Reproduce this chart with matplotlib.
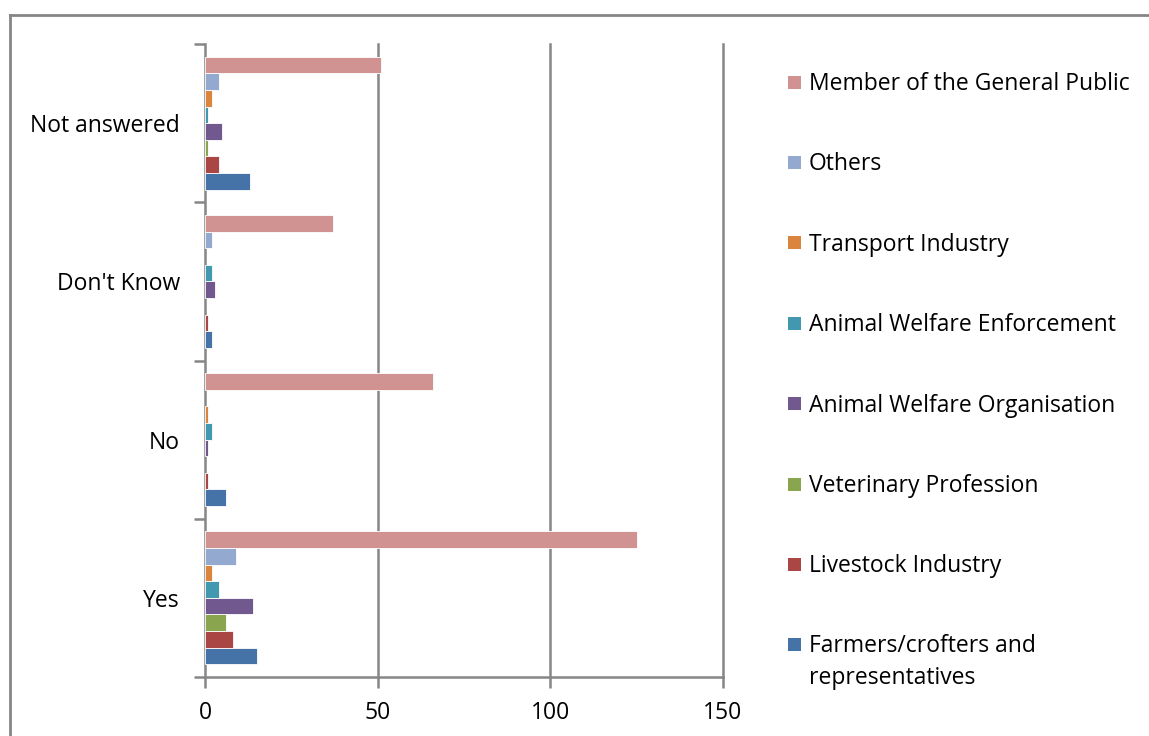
import matplotlib.pyplot as plt
from matplotlib.lines import Line2D
from matplotlib.patches import Rectangle
import numpy as np

plt.rcParams['font.family'] = ['Open Sans', 'DejaVu Sans']

categories = ["Yes", "No", "Don't Know", "Not answered"]

# series listed bottom-to-top inside each group
series_names = [
    "Farmers/crofters and\nrepresentatives",
    "Livestock Industry",
    "Veterinary Profession",
    "Animal Welfare Organisation",
    "Animal Welfare Enforcement",
    "Transport Industry",
    "Others",
    "Member of the General Public",
]
series_colors = ["#4572A7", "#AA4643", "#89A54E", "#71588F",
                 "#4198AF", "#DB843D", "#93A9CF", "#D19392"]

farmers = [15, 6, 2, 13]
livestock = [8, 1, 1, 4]
vets = [6, 0, 0, 1]
welfare_org = [14, 1, 3, 5]
enforcement = [4, 2, 2, 1]
transport = [2, 1, 0, 2]
others = [9, 0, 2, 4]
general_public = [125, 66, 37, 51]

values = [farmers, livestock, vets, welfare_org,
          enforcement, transport, others, general_public]

W, H = 1149, 736
FS = 16.5
fig = plt.figure(figsize=(W / 100, H / 100), dpi=100)
ax = fig.add_axes([205 / W, 1 - 677 / H, 518 / W, 633 / H])

grey = "#868686"
n = len(values)
group_h = 0.84
bar_h = group_h / n
base = np.arange(len(categories))
for i, (vals, color) in enumerate(zip(values, series_colors)):
    vals = np.asarray(vals, dtype=float)
    y = base - group_h / 2 + bar_h * (i + 0.5)
    keep = vals > 0
    ax.barh(y[keep], vals[keep], height=bar_h, color=color,
            edgecolor="white", linewidth=0.6, zorder=3)

ax.set_xlim(0, 150)
ax.set_ylim(-0.5, len(categories) - 0.5)
ax.set_xticks([0, 50, 100, 150])
for gx in [50, 100, 150]:
    ax.axvline(gx, color=grey, linewidth=1.8, zorder=1, clip_on=False)

# category boundaries get the tick marks, labels sit at group centres
ax.set_yticks(np.arange(-0.5, len(categories), 1.0))
ax.set_yticklabels([])
ax.set_yticks(base, minor=True)
ax.set_yticklabels(categories, minor=True)
ax.tick_params(axis="y", which="major", length=8, width=1.8, color=grey)
ax.tick_params(axis="y", which="minor", length=0, pad=18, labelsize=FS)
ax.tick_params(axis="x", length=8, width=1.8, color=grey, pad=9,
               labelsize=FS)

for side in ["top", "right"]:
    ax.spines[side].set_visible(False)
for side in ["left", "bottom"]:
    ax.spines[side].set_color(grey)
    ax.spines[side].set_linewidth(1.8)

# legend column, top entry first
row_gap = 80.4
for k, (name, color) in enumerate(zip(series_names[::-1], series_colors[::-1])):
    yc = 82 + row_gap * k
    fig.add_artist(Rectangle((788 / W, 1 - (yc + 6.5) / H), 13 / W, 13 / H,
                             transform=fig.transFigure, facecolor=color,
                             edgecolor="none"))
    if "\n" in name:
        fig.text(809 / W, 1 - (yc - 11) / H, name, fontsize=FS,
                 va="top", ha="left", linespacing=1.45)
    else:
        fig.text(809 / W, 1 - (yc + 2) / H, name, fontsize=FS,
                 va="center", ha="left")

# outer chart frame
fig.add_artist(Line2D([10 / W, 10 / W], [0, 1 - 15 / H],
                      transform=fig.transFigure, color=grey, linewidth=2))
fig.add_artist(Line2D([10 / W, 1], [1 - 15 / H, 1 - 15 / H],
                      transform=fig.transFigure, color=grey, linewidth=2))

fig.savefig("out.png", dpi=100)
